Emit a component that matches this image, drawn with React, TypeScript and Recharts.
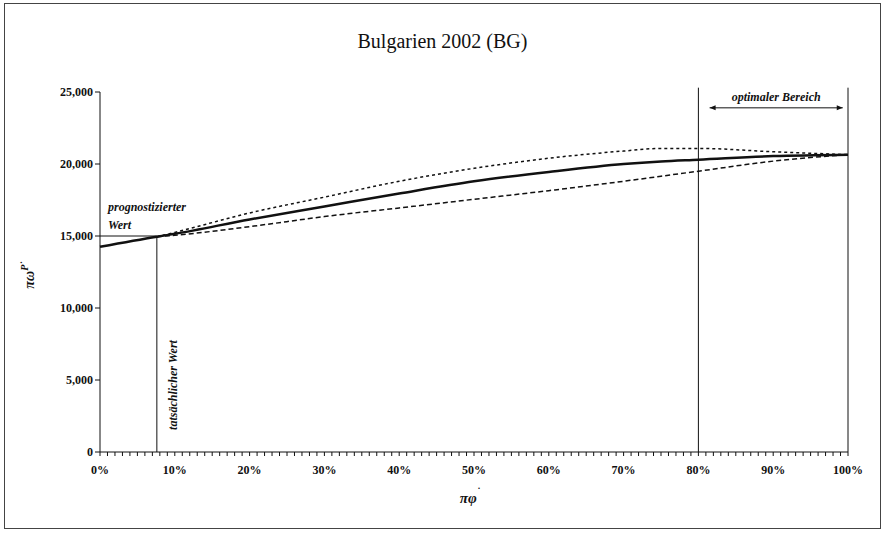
import React from 'react';
import { LineChart, Line, XAxis, YAxis, ReferenceLine } from 'recharts';

// share of population (%) and GDP per capita values
const shares = [0, 7.6, 10, 20, 30, 40, 50, 60, 70, 75, 80, 90, 100];
const forecast = [14250, 14950, 15150, 16150, 17050, 17950, 18800, 19450, 20000, 20180, 20300, 20550, 20650];
const upperBand = [null, 14950, 15250, 16600, 17700, 18800, 19700, 20400, 20900, 21080, 21080, 20850, 20650];
const lowerBand = [null, 14950, 15050, 15650, 16350, 16950, 17550, 18150, 18800, 19150, 19500, 20200, 20650];

const yTicks = [0, 5000, 10000, 15000, 20000, 25000];
const xLabels = [0, 10, 20, 30, 40, 50, 60, 70, 80, 90, 100];
const xTicks = Array.from({ length: 101 }, (_, i) => i);

const actualShare = 7.6;
const forecastValue = 15000;
const optimalFrom = 80;
const optimalTo = 100;
const arrowLevel = 23900;
const lineTop = 25300;

const data = shares.map((s, i) => ({
  share: s,
  forecast: forecast[i],
  upper: upperBand[i],
  lower: lowerBand[i],
}));

const FONT = '"Liberation Serif", "Times New Roman", serif';
const tickStyle = { fill: '#111', fontSize: 12, fontWeight: 'bold', fontFamily: FONT };
const noteStyle = { fill: '#111', fontSize: 12, fontWeight: 'bold', fontStyle: 'italic', fontFamily: FONT };

const Arrow = (p: any) => {
  const { x1, y1, x2, y2 } = p;
  return (
    <g>
      <line x1={x1} y1={y1} x2={x2} y2={y2} stroke="#111" strokeWidth={1} />
      <polygon points={`${x1},${y1} ${x1 + 6},${y1 - 2.5} ${x1 + 6},${y1 + 2.5}`} fill="#111" />
      <polygon points={`${x2},${y2} ${x2 - 6},${y2 - 2.5} ${x2 - 6},${y2 + 2.5}`} fill="#111" />
    </g>
  );
};

export default function App() {
  return (
    <div style={{ position: 'absolute', left: 0, top: 0, width: 885, height: 533, background: '#fff' }}>
      <div style={{ position: 'absolute', left: 4, top: 3, width: 875, height: 524, border: '1px solid #444' }} />
      <div style={{ position: 'absolute', left: 0, top: 30, width: 885, textAlign: 'center', fontFamily: FONT, fontSize: 20, color: '#111' }}>
        Bulgarien 2002 (BG)
      </div>
      <LineChart width={885} height={533} data={data} margin={{ top: 92, right: 37, left: 40, bottom: 51 }} style={{ position: 'absolute', left: 0, top: 0 }}>
        <XAxis
          type="number"
          dataKey="share"
          domain={[0, 100]}
          ticks={xTicks}
          interval={0}
          tickSize={4}
          height={30}
          stroke="#111"
          tick={{ ...tickStyle, dy: 7 }}
          tickFormatter={(v: number) => (xLabels.includes(v) ? `${v}%` : '')}
          label={{
            content: () => (
              <text x={470} y={503} textAnchor="middle" style={{ ...noteStyle, fontSize: 15 }}>
                πφ<tspan dy={-8} fontSize={10}>˙</tspan>
              </text>
            ),
          }}
        />
        <YAxis
          type="number"
          domain={[0, 25000]}
          ticks={yTicks}
          width={60}
          tickSize={5}
          stroke="#111"
          tick={tickStyle}
          tickFormatter={(v: number) => v.toLocaleString('en-US')}
          label={{
            content: () => (
              <text x={34} y={275} textAnchor="middle" transform="rotate(-90 34 275)" style={{ ...noteStyle, fontSize: 14 }}>
                πω<tspan dy={-6} fontSize={10}>P˙</tspan>
              </text>
            ),
          }}
        />
        <ReferenceLine
          segment={[{ x: 0, y: forecastValue }, { x: actualShare, y: forecastValue }]}
          stroke="#111"
          strokeWidth={1}
          label={{
            content: (p: any) => (
              <text x={p.viewBox.x + 8} y={p.viewBox.y - 25} style={noteStyle}>
                prognostizierter
                <tspan x={p.viewBox.x + 8} dy={18}>Wert</tspan>
              </text>
            ),
          }}
        />
        <ReferenceLine
          segment={[{ x: actualShare, y: 0 }, { x: actualShare, y: forecastValue }]}
          stroke="#111"
          strokeWidth={1}
          label={{
            content: (p: any) => {
              const x = p.viewBox.x + 20;
              const y = p.viewBox.y + p.viewBox.height - 67;
              return (
                <text x={x} y={y} textAnchor="middle" transform={`rotate(-90 ${x} ${y})`} style={noteStyle}>
                  tatsächlicher Wert
                </text>
              );
            },
          }}
        />
        <ReferenceLine segment={[{ x: optimalFrom, y: 0 }, { x: optimalFrom, y: lineTop }]} stroke="#111" strokeWidth={1} ifOverflow="visible" />
        <ReferenceLine segment={[{ x: optimalTo, y: 0 }, { x: optimalTo, y: lineTop }]} stroke="#111" strokeWidth={1} ifOverflow="visible" />
        <ReferenceLine
          segment={[{ x: optimalFrom + 1.5, y: arrowLevel }, { x: optimalTo - 0.7, y: arrowLevel }]}
          ifOverflow="visible"
          shape={Arrow}
          label={{
            content: (p: any) => (
              <text x={p.viewBox.x + p.viewBox.width / 2} y={p.viewBox.y - 7} textAnchor="middle" style={noteStyle}>
                optimaler Bereich
              </text>
            ),
          }}
        />
        <Line type="monotone" dataKey="upper" stroke="#111" strokeWidth={1.5} strokeDasharray="3 3" dot={false} isAnimationActive={false} />
        <Line type="monotone" dataKey="lower" stroke="#111" strokeWidth={1.5} strokeDasharray="5 3" dot={false} isAnimationActive={false} />
        <Line type="monotone" dataKey="forecast" stroke="#111" strokeWidth={2.5} dot={false} isAnimationActive={false} />
      </LineChart>
    </div>
  );
}
